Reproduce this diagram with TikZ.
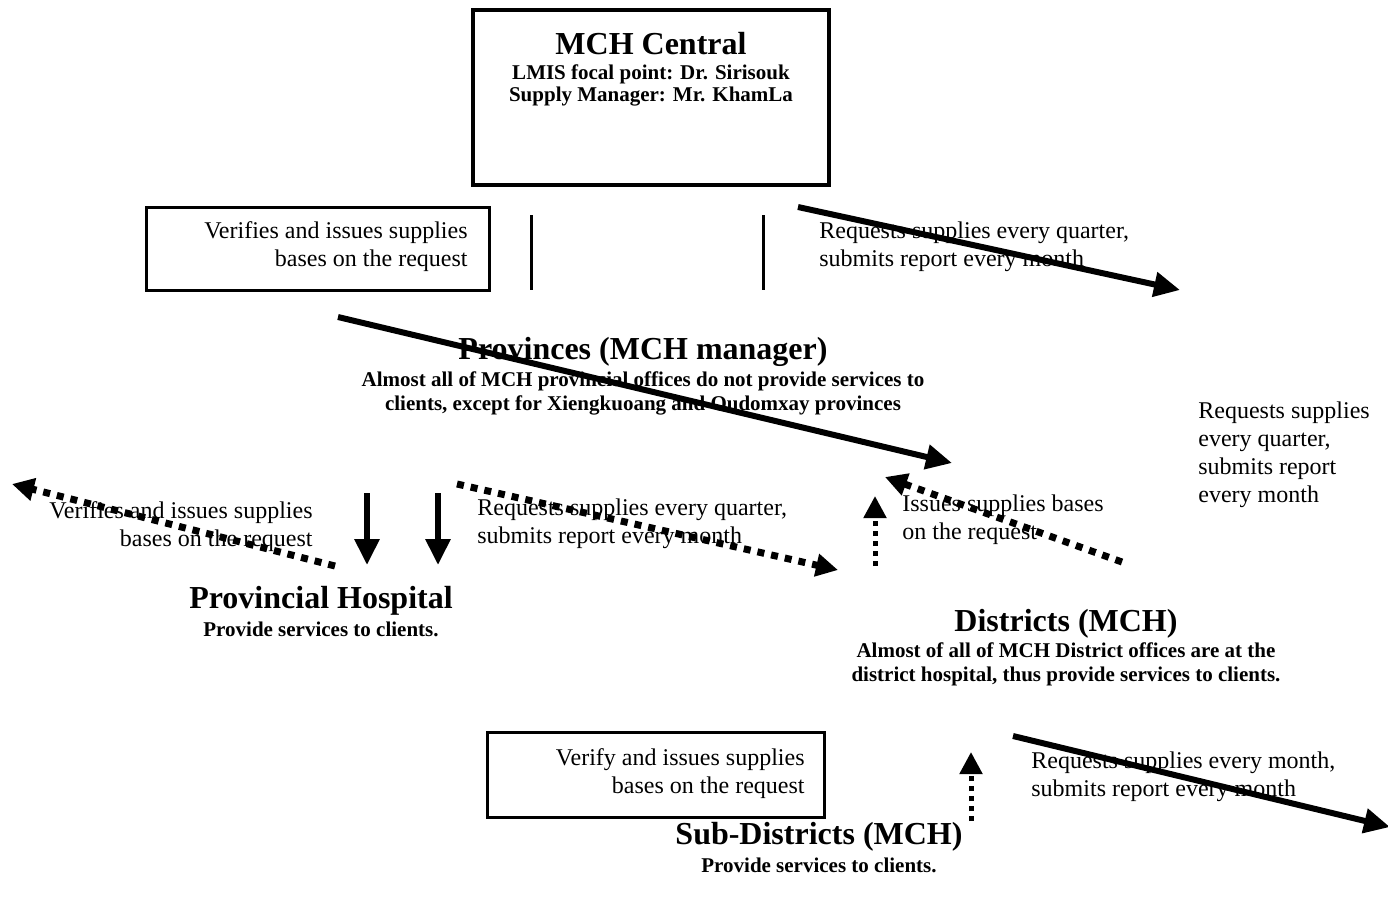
\documentclass[tikz,border=0pt]{standalone}
\usepackage{fontspec}
\setmainfont{Liberation Serif}
\usetikzlibrary{arrows.meta}
\begin{document}
\begin{tikzpicture}[x=0.5pt,y=-0.5pt,
  body/.style={font=\fontsize{12}{14}\selectfont, inner sep=0pt},
  ttl/.style={font=\bfseries\fontsize{16}{18}\selectfont, inner sep=0pt},
  subt/.style={font=\bfseries\fontsize{10.5}{12}\selectfont, inner sep=0pt, align=center},
  boxed/.style={draw, line width=1.5pt, inner sep=0pt},
  big/.style={line width=3pt, -{Triangle[length=13pt,width=12pt]}},
  dots/.style={line width=3.5pt, dash pattern=on 3.5pt off 3.5pt, -{Triangle[length=11pt,width=11pt]}},
  vdots/.style={line width=2.5pt, dash pattern=on 2.5pt off 2.5pt, -{Triangle[length=11pt,width=11pt]}},
  thinbar/.style={line width=1.5pt},
  ]
\useasboundingbox[fill=white] (0,0) rectangle (1388,902);

% MCH Central
\node[boxed, line width=2pt, minimum width=178pt, minimum height=87.5pt] (central) at (651,97.5) {};
\node[ttl] (c1) at (651,44) {MCH Central};
\node[subt] (c2) at (651,74) {LMIS focal point: Dr. Sirisouk};
\node[subt] (c3) at (651,97) {Supply Manager: Mr. KhamLa};

% box 1
\node[boxed, minimum width=171.5pt, minimum height=41.5pt] (box1) at (317.5,248.5) {};
\node[body, align=right, anchor=east] (t0) at (468,247) {Verifies and issues supplies\\bases on the request};

% vertical bars
\coordinate (v1a) at (531,215); \coordinate (v1b) at (531,290);
\coordinate (v2a) at (763,215); \coordinate (v2b) at (763,290);
\draw[thinbar] (v1a) -- (v1b);
\draw[thinbar] (v2a) -- (v2b);

% top right arrow
\node[body, align=left, anchor=west] (t1) at (819,246.5) {Requests supplies every quarter,\\submits report every month};
\coordinate (a1s) at (798,207); \coordinate (a1e) at (1180,290);
\draw[big] (a1s) -- (a1e);

% Provinces
\node[ttl] (prov) at (643,352) {Provinces (MCH manager)};
\node[subt] (provs) at (643,393) {Almost all of MCH provincial offices do not provide services to\\clients, except for Xiengkuoang and Oudomxay provinces};
\coordinate (a2s) at (338,317); \coordinate (a2e) at (952,463);
\draw[big] (a2s) -- (a2e);

% right text
\node[body, align=left, anchor=west] (rt) at (1198,455) {Requests supplies\\every quarter,\\submits report\\every month};

% left dotted
\coordinate (d1s) at (335,566); \coordinate (d1e) at (12,484);
\draw[dots] (d1s) -- (d1e);
\node[body, align=right, anchor=east] (t2) at (313,526.5) {Verifies and issues supplies\\bases on the request};

% down arrows
\coordinate (p1s) at (367,493); \coordinate (p1e) at (367,565);
\coordinate (p2s) at (438,493); \coordinate (p2e) at (438,565);
\draw[big] (p1s) -- (p1e);
\draw[big] (p2s) -- (p2e);

% middle dotted
\coordinate (d2s) at (457,484); \coordinate (d2e) at (838,570);
\draw[dots] (d2s) -- (d2e);
\node[body, align=left, anchor=west] (t3) at (477,524) {Requests supplies every quarter,\\submits report every month};

% vertical dotted up
\coordinate (d3s) at (875,566); \coordinate (d3e) at (875,496);
\draw[vdots] (d3s) -- (d3e);

% right dotted
\coordinate (d4s) at (1122,562); \coordinate (d4e) at (885,477);
\draw[dots] (d4s) -- (d4e);
\node[body, align=left, anchor=west] (t4) at (902,519.5) {Issues supplies bases\\on the request};

% Provincial hospital
\node[ttl] (ph) at (321,601) {Provincial Hospital};
\node[subt] (phs) at (321,629) {Provide services to clients.};

% Districts
\node[ttl] (dist) at (1066,624) {Districts (MCH)};
\node[subt] (dists) at (1066,664) {Almost of all of MCH District offices are at the\\district hospital, thus provide services to clients.};

% box 3
\node[boxed, minimum width=168.5pt, minimum height=42.5pt] (box3) at (655.5,774.5) {};
\node[body, align=right, anchor=east] (t5) at (805,773.5) {Verify and issues supplies\\bases on the request};

\coordinate (d5s) at (971,821); \coordinate (d5e) at (971,752);
\draw[vdots] (d5s) -- (d5e);

\coordinate (a3s) at (1013,736); \coordinate (a3e) at (1390,827);
\draw[big] (a3s) -- (a3e);
\node[body, align=left, anchor=west] (t6) at (1031,776.5) {Requests supplies every month,\\submits report every month};

% Sub-districts
\node[ttl] (sd) at (819,837) {Sub-Districts (MCH)};
\node[subt] (sds) at (819,865) {Provide services to clients.};
\end{tikzpicture}
\end{document}
